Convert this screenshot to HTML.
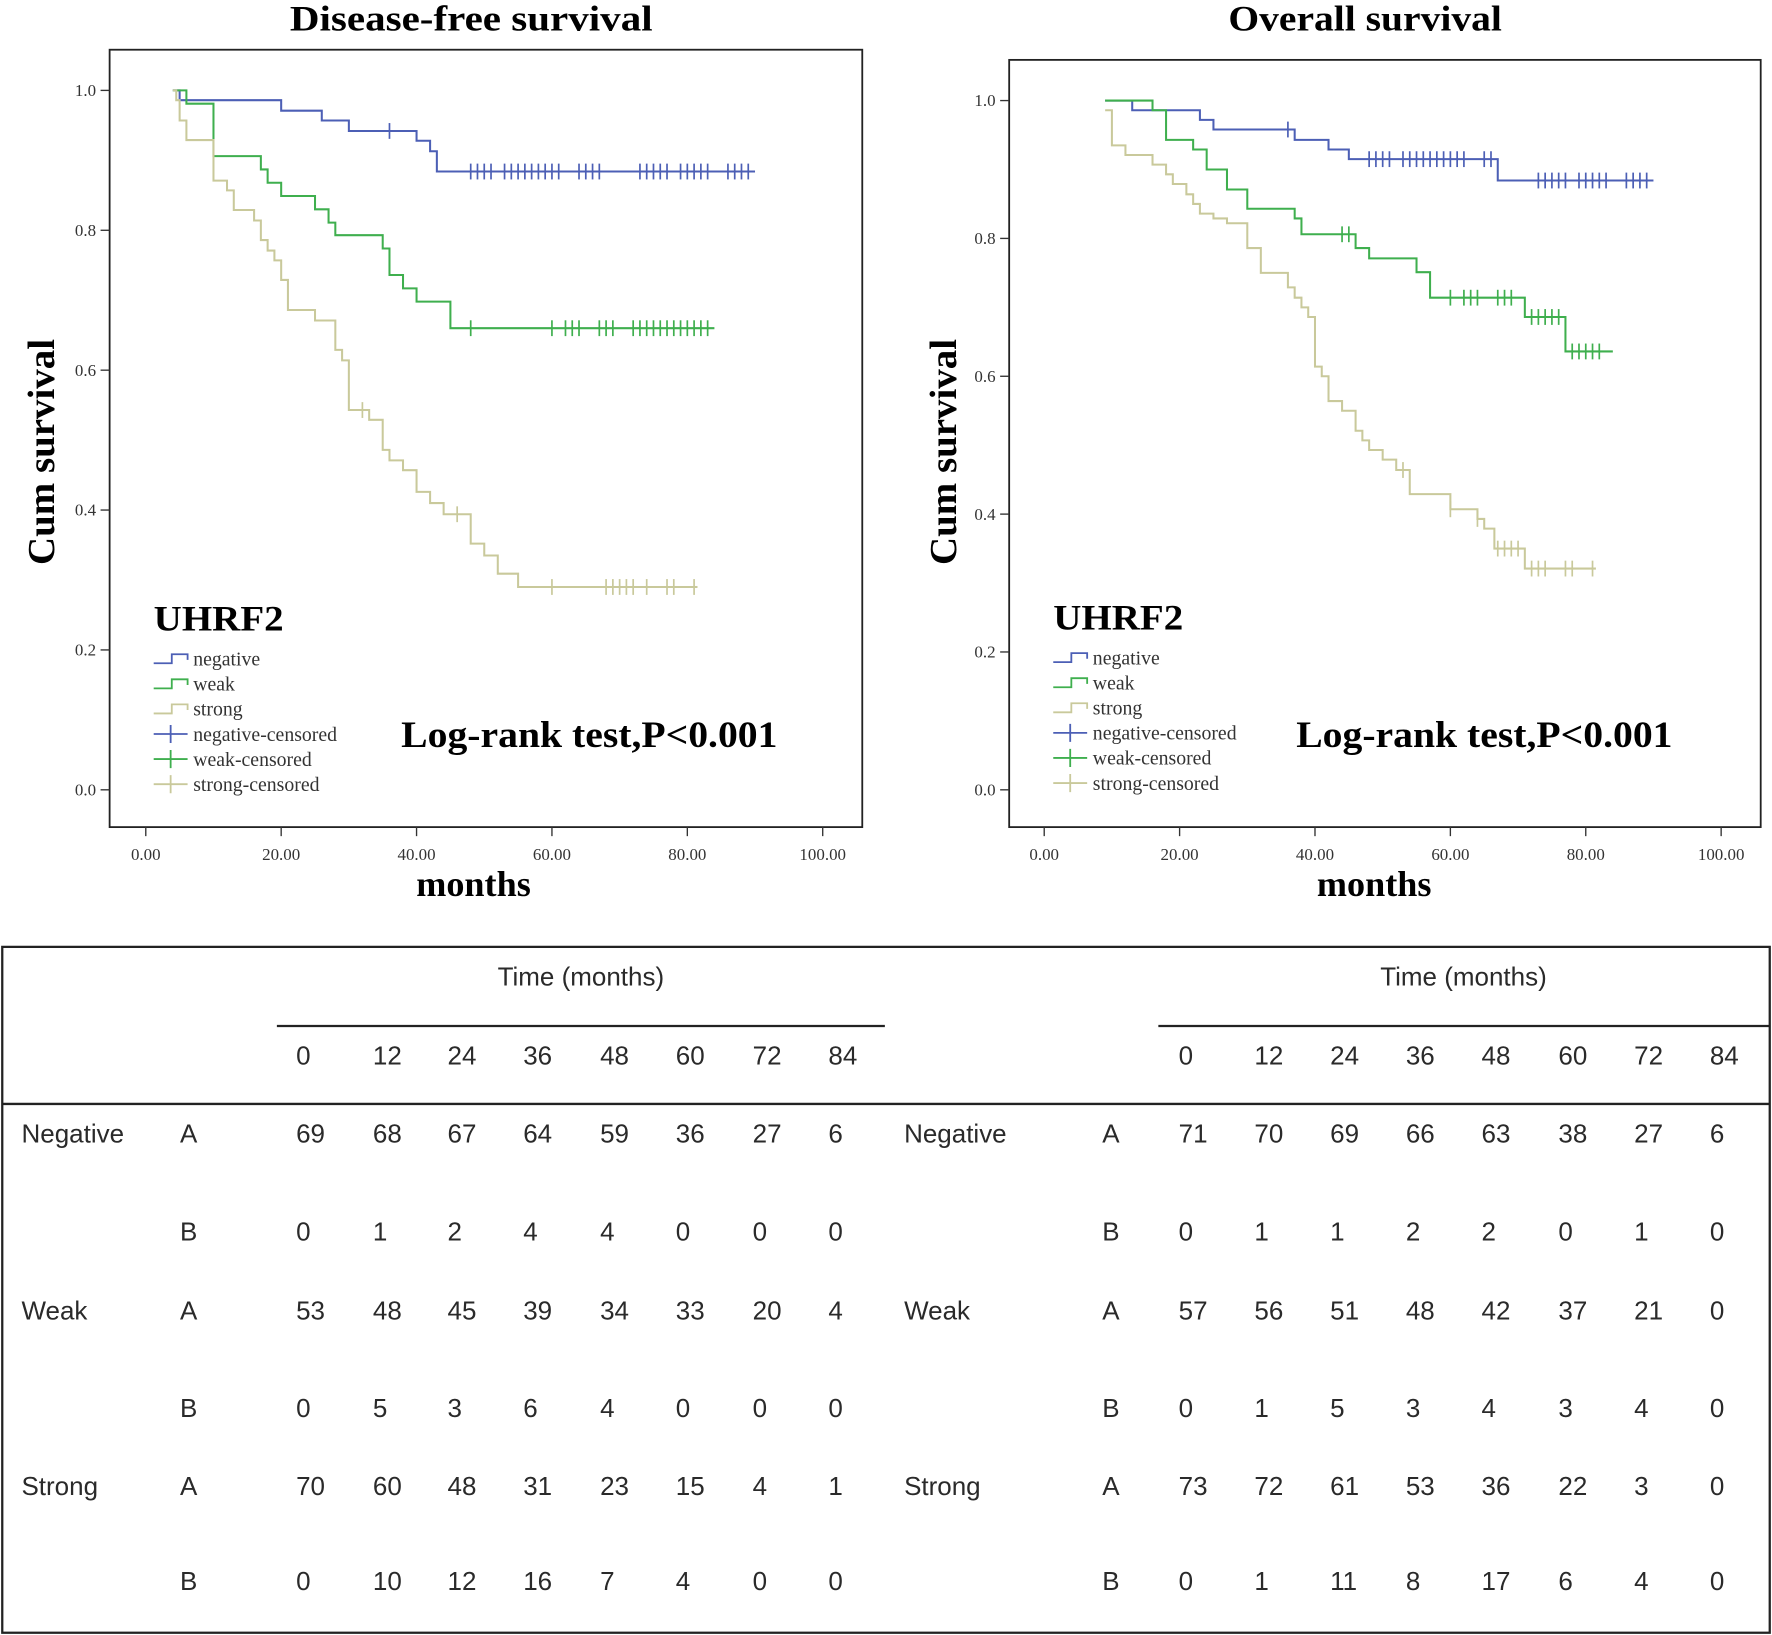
<!DOCTYPE html>
<html><head><meta charset="utf-8"><style>
html,body{margin:0;padding:0;background:#fff;}
svg{display:block;}
.serif{font-family:"Liberation Serif",serif;}
.sans{font-family:"Liberation Sans",sans-serif;}
</style></head><body>
<svg id="fig" width="1772" height="1635" viewBox="0 0 1568 1447" preserveAspectRatio="none" xmlns="http://www.w3.org/2000/svg">
<rect x="0" y="0" width="1568" height="1447" fill="#fff"/>
<g id="dfs"></g>
<g id="os"></g>
<g id="tbl"></g>
</svg>
<script>
// ===== Disease-free survival data =====
const dfsNegT = [4, 5, 20, 26, 30, 40, 42, 43];
const dfsNegS = [1.0, 0.986, 0.971, 0.957, 0.942, 0.928, 0.913, 0.884];
const dfsNegC = [36, 48, 49, 50, 51, 53, 54, 55, 56, 57, 58, 59, 60, 61, 64, 65, 66, 67, 73, 74, 75, 76, 77, 79, 80, 81, 82, 83, 86, 87, 88, 89];
const dfsNegEnd = 90;
const dfsWeakT = [4, 6, 10, 17, 18, 20, 25, 27, 28, 35, 36, 38, 40, 45];
const dfsWeakS = [1.0, 0.981, 0.906, 0.887, 0.868, 0.849, 0.830, 0.811, 0.793, 0.774, 0.736, 0.717, 0.698, 0.660];
const dfsWeakC = [48, 60, 62, 63, 64, 67, 68, 69, 72, 73, 74, 75, 76, 77, 78, 79, 80, 81, 82, 83];
const dfsWeakEnd = 84;
const dfsStrT = [4, 4.5, 5, 6, 10, 12, 13, 16, 17, 18, 19, 20, 21, 25, 28, 29, 30, 33, 35, 36, 38, 40, 42, 44, 48, 50, 52, 55];
const dfsStrS = [1.0, 0.986, 0.957, 0.929, 0.871, 0.857, 0.829, 0.814, 0.786, 0.771, 0.757, 0.729, 0.686, 0.671, 0.629, 0.614, 0.543, 0.529, 0.486, 0.471, 0.457, 0.426, 0.41, 0.394, 0.352, 0.335, 0.309, 0.29];
const dfsStrC = [32, 46, 60, 68, 69, 70, 71, 72, 74, 77, 78, 81];
const dfsStrEnd = 81.5;
// ===== Overall survival data =====
const osNegT = [9, 13, 23, 25, 37, 42, 45, 67];
const osNegS = [1.0, 0.986, 0.972, 0.958, 0.943, 0.929, 0.915, 0.884];
const osNegC = [36, 48, 49, 50, 51, 53, 54, 55, 56, 57, 58, 59, 60, 61, 62, 65, 66, 73, 74, 75, 76, 77, 79, 80, 81, 82, 83, 86, 87, 88, 89];
const osNegEnd = 90;
const osWeakT = [9, 16, 18, 22, 24, 27, 30, 37, 38, 46, 48, 55, 57, 71, 77];
const osWeakS = [1.0, 0.986, 0.943, 0.929, 0.9, 0.871, 0.843, 0.829, 0.806, 0.786, 0.771, 0.751, 0.714, 0.686, 0.636];
const osWeakC = [44, 45, 60, 62, 63, 64, 67, 68, 69, 72, 73, 74, 75, 76, 78, 79, 80, 81, 82];
const osWeakEnd = 84;
const osStrT = [9, 10, 12, 16, 18, 19, 21, 22, 23, 25, 27, 30, 32, 36, 37, 38, 39, 40, 41, 42, 44, 46, 47, 48, 50, 52, 54, 60, 64, 65, 66.5, 71];
const osStrS = [0.986, 0.935, 0.921, 0.907, 0.893, 0.879, 0.864, 0.85, 0.836, 0.829, 0.822, 0.786, 0.75, 0.729, 0.714, 0.700, 0.686, 0.614, 0.6, 0.564, 0.55, 0.521, 0.507, 0.493, 0.479, 0.464, 0.429, 0.407, 0.393, 0.379, 0.35, 0.321];
const osStrC = [53, 60, 64, 67, 68, 69, 70, 72, 73, 74, 77, 78, 81];
const osStrEnd = 81.5;
// ===== axes =====
const yTicks = [0.0, 0.2, 0.4, 0.6, 0.8, 1.0];
const yTickLabels = ["0.0", "0.2", "0.4", "0.6", "0.8", "1.0"];
const xTicks = [0, 20, 40, 60, 80, 100];
const xTickLabels = ["0.00", "20.00", "40.00", "60.00", "80.00", "100.00"];
const legendLabels = ["negative", "weak", "strong", "negative-censored", "weak-censored", "strong-censored"];
// ===== table data =====
const timePoints = ["0", "12", "24", "36", "48", "60", "72", "84"];
const groups = ["Negative", "Weak", "Strong"];
const dfsA = [[69,68,67,64,59,36,27,6],[53,48,45,39,34,33,20,4],[70,60,48,31,23,15,4,1]];
const dfsB = [[0,1,2,4,4,0,0,0],[0,5,3,6,4,0,0,0],[0,10,12,16,7,4,0,0]];
const osA = [[71,70,69,66,63,38,27,6],[57,56,51,48,42,37,21,0],[73,72,61,53,36,22,3,0]];
const osB = [[0,1,1,2,2,0,1,0],[0,1,5,3,4,3,4,0],[0,1,11,8,17,6,4,0]];

const NS = "http://www.w3.org/2000/svg";
const COLORS = {neg: "#4c5fb5", weak: "#3faf4e", str: "#c9c99b"};
function mk(parent, tag, attrs, text) {
  const e = document.createElementNS(NS, tag);
  for (const k in attrs) e.setAttribute(k, attrs[k]);
  if (text !== undefined) e.textContent = text;
  parent.appendChild(e);
  return e;
}
function survAt(T, S, t) { let s = S[0]; for (let i = 0; i < T.length; i++) if (T[i] <= t) s = S[i]; return s; }

function drawChart(g, cfg) {
  const xs = t => cfg.x0 + (t / 100) * (cfg.x100 - cfg.x0);
  const ys = s => cfg.y0 - s * (cfg.y0 - cfg.y1);
  const fr = mk(g, "rect", {x: cfg.fl, y: cfg.ft, width: cfg.fr - cfg.fl, height: cfg.fb - cfg.ft, fill: "none", stroke: "#222", "stroke-width": 1.6});
  
  
  const tt = mk(g, "text", {x: cfg.titleX, y: 27, "text-anchor": "middle", "font-size": 32, "font-weight": "bold", class: "serif", textLength: cfg.titleLen, lengthAdjust: "spacingAndGlyphs"}, cfg.title);
  
  
  const yl = mk(g, "text", {x: 0, y: 0, transform: `translate(${cfg.yLabelX},400) rotate(-90)`, "text-anchor": "middle", "font-size": 34, "font-weight": "bold", class: "serif", textLength: 200, lengthAdjust: "spacingAndGlyphs"}, "Cum survival");
  
  
  const xl = mk(g, "text", {x: cfg.monthsX, y: 793, "text-anchor": "middle", "font-size": 32, "font-weight": "bold", class: "serif"}, "months");
  
  
  yTicks.forEach((v, i) => {
    const y = ys(v);
    const tk = mk(g, "line", {x1: cfg.fl - 8, x2: cfg.fl, y1: y, y2: y, stroke: "#333", "stroke-width": 1.2});
    
    
    const lb = mk(g, "text", {x: cfg.fl - 12, y: y + 5, "text-anchor": "end", "font-size": 15, fill: "#333", class: "serif"}, yTickLabels[i]);
    
    
  });
  xTicks.forEach((v, i) => {
    const x = xs(v);
    const tk = mk(g, "line", {x1: x, x2: x, y1: cfg.fb, y2: cfg.fb + 8, stroke: "#333", "stroke-width": 1.2});
    
    
    const lb = mk(g, "text", {x: x, y: cfg.fb + 29, "text-anchor": "middle", "font-size": 15, fill: "#333", class: "serif"}, xTickLabels[i]);
    
    
  });
  cfg.series.forEach(sr => {
    const T = sr.T, S = sr.S;
    let d = `M${xs(T[0])},${ys(S[0])}`;
    for (let i = 1; i < T.length; i++) d += ` H${xs(T[i])} V${ys(S[i])}`;
    d += ` H${xs(sr.end)}`;
    const p = mk(g, "path", {d: d, fill: "none", stroke: sr.color, "stroke-width": 1.8});
    
    
    sr.C.forEach(c => {
      const x = xs(c), y = ys(survAt(T, S, c));
      const m = mk(g, "line", {x1: x, x2: x, y1: y - 7, y2: y + 7, stroke: sr.color, "stroke-width": 1.5});
      
      
    });
  });
  const lgT = mk(g, "text", {x: cfg.lgX, y: cfg.lgY, "font-size": 32, "font-weight": "bold", class: "serif", textLength: 115, lengthAdjust: "spacingAndGlyphs"}, "UHRF2");
  
  
  const cols = [COLORS.neg, COLORS.weak, COLORS.str, COLORS.neg, COLORS.weak, COLORS.str];
  legendLabels.forEach((lab, i) => {
    const y = cfg.lgY + 25 + i * 22.2;
    const x = cfg.lgX;
    let sym;
    if (i < 3) sym = mk(g, "path", {d: `M${x},${y + 4} H${x + 16} V${y - 4} H${x + 30} V${y + 1}`, fill: "none", stroke: cols[i], "stroke-width": 1.6});
    else sym = mk(g, "path", {d: `M${x},${y} H${x + 30} M${x + 15},${y - 8} V${y + 8}`, fill: "none", stroke: cols[i], "stroke-width": 1.6});
    
    
    const t = mk(g, "text", {x: x + 35, y: y + 6, "font-size": 17.5, fill: "#333", class: "serif"}, lab);
    
    
  });
  const lr = mk(g, "text", {x: cfg.lrX, y: 661, "font-size": 33, "font-weight": "bold", class: "serif", textLength: 333, lengthAdjust: "spacingAndGlyphs"}, "Log-rank test,P<0.001");
  
  
}

drawChart(document.getElementById("dfs"), {
  title: "Disease-free survival", titleX: 417, titleLen: 321, yLabelX: 48, monthsX: 419,
  fl: 97, fr: 763, ft: 44, fb: 732, x0: 129, x100: 728, y0: 699, y1: 80,
  lgX: 136, lgY: 558, lrX: 355,
  series: [
    {name: "negative", T: dfsNegT, S: dfsNegS, C: dfsNegC, end: dfsNegEnd, color: COLORS.neg},
    {name: "weak", T: dfsWeakT, S: dfsWeakS, C: dfsWeakC, end: dfsWeakEnd, color: COLORS.weak},
    {name: "strong", T: dfsStrT, S: dfsStrS, C: dfsStrC, end: dfsStrEnd, color: COLORS.str}
  ]
});
drawChart(document.getElementById("os"), {
  title: "Overall survival", titleX: 1208, titleLen: 242, yLabelX: 846, monthsX: 1216,
  fl: 893, fr: 1558, ft: 53, fb: 732, x0: 924, x100: 1523, y0: 699, y1: 89,
  lgX: 932, lgY: 557, lrX: 1147,
  series: [
    {name: "negative", T: osNegT, S: osNegS, C: osNegC, end: osNegEnd, color: COLORS.neg},
    {name: "weak", T: osWeakT, S: osWeakS, C: osWeakC, end: osWeakEnd, color: COLORS.weak},
    {name: "strong", T: osStrT, S: osStrS, C: osStrC, end: osStrEnd, color: COLORS.str}
  ]
});

// ===== table =====
(function () {
  const g = document.getElementById("tbl");
  const fr = mk(g, "rect", {x: 2, y: 838, width: 1564, height: 607, fill: "none", stroke: "#222", "stroke-width": 2});
  
  
  const hl = mk(g, "line", {x1: 2, x2: 1566, y1: 977, y2: 977, stroke: "#222", "stroke-width": 2});
  
  
  const sides = [
    {colX: [262, 330, 396, 463, 531, 598, 666, 733], line: [245, 783], timeX: 514, grpX: 19, abX: 167, A: dfsA, B: dfsB},
    {colX: [1043, 1110, 1177, 1244, 1311, 1379, 1446, 1513], line: [1025, 1566], timeX: 1295, grpX: 800, abX: 983, A: osA, B: osB}
  ];
  const rowsY = [[1003, 1090], [1160, 1246], [1315, 1399]];
  const fs = 23, fill = "#2a2a2a";
  sides.forEach(sd => {
    const l = mk(g, "line", {x1: sd.line[0], x2: sd.line[1], y1: 908, y2: 908, stroke: "#222", "stroke-width": 2});
    
    
    const th = mk(g, "text", {x: sd.timeX, y: 872, "text-anchor": "middle", "font-size": fs, fill: fill, class: "sans"}, "Time (months)");
    
    
    timePoints.forEach((tp, j) => {
      const t = mk(g, "text", {x: sd.colX[j], y: 942, "font-size": fs, fill: fill, class: "sans"}, tp);
      
      
    });
    groups.forEach((gr, i) => {
      const gt = mk(g, "text", {x: sd.grpX, y: rowsY[i][0] + 8, "font-size": fs, fill: fill, class: "sans"}, gr);
      
      
      ["A", "B"].forEach((ab, k) => {
        const y = rowsY[i][k] + 8;
        const at = mk(g, "text", {x: sd.abX, y: y, "text-anchor": "middle", "font-size": fs, fill: fill, class: "sans"}, ab);
        
        
        const vals = k === 0 ? sd.A[i] : sd.B[i];
        vals.forEach((v, j) => {
          const c = mk(g, "text", {x: sd.colX[j], y: y, "font-size": fs, fill: fill, class: "sans"}, String(v));
          
          
        });
      });
    });
  });
})();
</script>
</body></html>
